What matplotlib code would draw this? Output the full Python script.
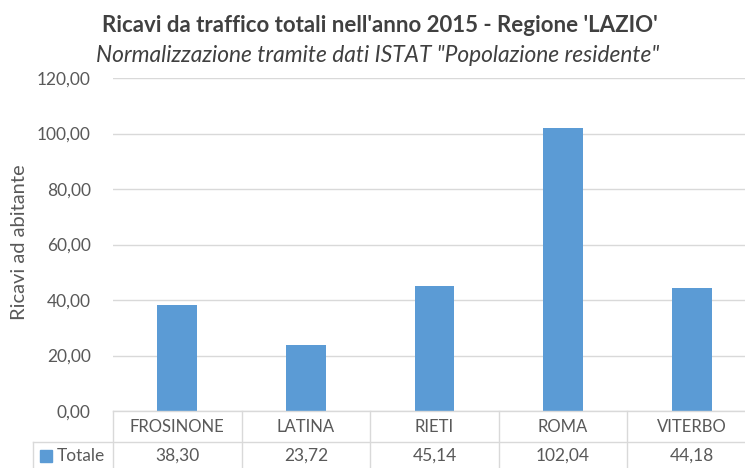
import matplotlib
matplotlib.use("Agg")
import matplotlib.pyplot as plt
from matplotlib.transforms import blended_transform_factory

categories = ["FROSINONE", "LATINA", "RIETI", "ROMA", "VITERBO"]
values = [38.30, 23.72, 45.14, 102.04, 44.18]
series_name = "Totale"
yticks = [0, 20, 40, 60, 80, 100, 120]
title = "Ricavi da traffico totali nell'anno 2015 - Regione 'LAZIO'"
subtitle = "Normalizzazione tramite dati ISTAT \"Popolazione residente\""

FONT = "Lato"
TXT = "#595959"
GRID = "#d9d9d9"
BAR = "#5b9bd5"

W, H = 745, 468
fig = plt.figure(figsize=(W / 100, H / 100), dpi=100)

left, right = 113, 756
top, bottom = 78, 411
ax = fig.add_axes([left / W, 1 - bottom / H, (right - left) / W, (bottom - top) / H])

x = list(range(len(categories)))
ax.bar(x, values, width=0.31, color=BAR, zorder=3)
ax.set_xlim(-0.5, len(categories) - 0.5)
ax.set_ylim(0, 120)
ax.set_yticks(yticks)
ax.set_yticklabels([f"{v:.2f}".replace(".", ",") for v in yticks],
                   fontname=FONT, fontsize=12.5, color=TXT)
ax.tick_params(axis="y", length=0, pad=16)
ax.set_xticks([])
for s in ax.spines.values():
    s.set_visible(False)
ax.yaxis.grid(True, color=GRID, linewidth=1)
ax.set_axisbelow(True)
ax.set_ylabel("Ricavi ad abitante", fontname=FONT, fontsize=14.5, color=TXT, va="center")
ax.yaxis.set_label_coords(-(left - 20) / (right - left), (411 - 242) / (bottom - top))

# data table below
tr = blended_transform_factory(ax.transData, fig.transFigure)
fy = lambda py: 1 - py / H
fx = lambda px: px / W
lw = 1
row1_top, row2_top, row2_bot = 411, 442, 469
fig.add_artist(plt.Line2D([fx(left), fx(800)], [fy(row1_top)] * 2, color=GRID, lw=lw))
fig.add_artist(plt.Line2D([fx(33), fx(800)], [fy(row2_top)] * 2, color=GRID, lw=lw))
fig.add_artist(plt.Line2D([fx(33), fx(800)], [fy(row2_bot)] * 2, color=GRID, lw=lw))
fig.add_artist(plt.Line2D([fx(33)] * 2, [fy(row2_top), fy(row2_bot)], color=GRID, lw=lw))
fig.add_artist(plt.Line2D([fx(left)] * 2, [fy(row1_top), fy(row2_bot)], color=GRID, lw=lw))
for i in range(len(categories)):
    xb = i + 0.5
    ax.plot([xb, xb], [fy(row1_top), fy(row2_bot)], transform=tr, color=GRID, lw=lw, clip_on=False)
    ax.text(i, fy(427), categories[i], transform=tr, ha="center", va="center",
            fontname=FONT, fontsize=12, color=TXT)
    ax.text(i, fy(456), f"{values[i]:.2f}".replace(".", ","), transform=tr, ha="center",
            va="center", fontname=FONT, fontsize=12.5, color=TXT)
fig.add_artist(plt.Rectangle((fx(40), fy(462)), fx(12), 12 / H, color=BAR, transform=fig.transFigure))
fig.text(fx(57), fy(456), series_name, ha="left", va="center", fontname=FONT, fontsize=12.5, color=TXT)

t1 = fig.text(fx(380), fy(25), title, ha="center", va="center", fontname=FONT,
              fontsize=14, fontweight="bold", color="#404040")
t2 = fig.text(fx(378), fy(55), subtitle, ha="center", va="center", fontname=FONT,
              fontsize=14, fontstyle="italic", color="#404040")
renderer = fig.canvas.get_renderer()
for t, target in ((t1, 560), (t2, 565)):
    w = t.get_window_extent(renderer).width
    t.set_fontsize(14 * target / w)

fig.savefig("out.png", dpi=100)
